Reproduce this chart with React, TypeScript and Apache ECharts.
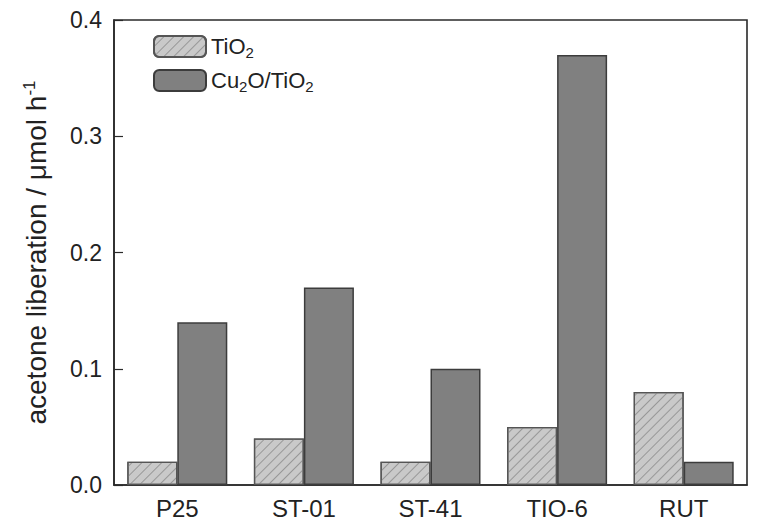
import React, { useEffect, useRef } from "react";
import * as echarts from "echarts";

const categories = ["P25", "ST-01", "ST-41", "TIO-6", "RUT"];
const tio2Values = [0.02, 0.04, 0.02, 0.05, 0.08];
const cu2oValues = [0.14, 0.17, 0.1, 0.37, 0.02];
const yTicks = [0, 0.1, 0.2, 0.3, 0.4];

const FONT = "Liberation Sans, Arial, sans-serif";

export default function App() {
  const ref = useRef<HTMLDivElement>(null);
  useEffect(() => {
    const chart = echarts.init(ref.current!, null, { renderer: "svg" });
    const rich = {
      sub: { fontSize: 15, verticalAlign: "bottom", padding: [12, 0, 0, 0], fontFamily: FONT, color: "#222" },
    };
    chart.setOption({
      animation: false,
      backgroundColor: "#fff",
      textStyle: { fontFamily: FONT },
      grid: {
        left: 114,
        right: 10,
        top: 20,
        bottom: 39,
        show: true,
        borderColor: "#2a2a2a",
        borderWidth: 1.6,
        containLabel: false,
      },
      legend: {
        orient: "vertical",
        left: 148,
        top: 30,
        itemWidth: 52,
        itemHeight: 21,
        itemGap: 9,
        data: ["TiO2", "Cu2O/TiO2"],
        formatter: (name: string) =>
          name === "TiO2" ? "TiO{sub|2}" : "Cu{sub|2}O/TiO{sub|2}",
        textStyle: { fontSize: 22, color: "#222", fontFamily: FONT, rich },
      },
      xAxis: {
        type: "category",
        data: categories,
        axisLine: { lineStyle: { color: "#2a2a2a", width: 1.6 } },
        axisTick: { show: false },
        axisLabel: { fontSize: 24, color: "#222", margin: 11, fontFamily: FONT },
      },
      yAxis: {
        type: "value",
        min: 0,
        max: 0.4,
        interval: 0.1,
        name: "acetone liberation / μmol h{sup|-1}",
        nameLocation: "middle",
        nameGap: 62,
        nameRotate: 90,
        nameTextStyle: {
          fontSize: 28,
          color: "#222",
          fontFamily: FONT,
          rich: {
            sup: { fontSize: 17, verticalAlign: "top", padding: [0, 0, 14, 0], color: "#222", fontFamily: FONT },
          },
        },
        axisLine: { show: true, lineStyle: { color: "#2a2a2a", width: 1.6 } },
        axisTick: { show: true, inside: true, length: 9, lineStyle: { color: "#2a2a2a", width: 1.2 } },
        splitLine: { show: false },
        axisLabel: {
          fontSize: 23,
          color: "#222",
          margin: 12,
          fontFamily: FONT,
          formatter: (v: number) => yTicks.includes(Math.round(v * 10) / 10) ? v.toFixed(1) : "",
        },
      },
      series: [
        {
          name: "TiO2",
          type: "bar",
          data: tio2Values,
          barGap: "0%",
          barCategoryGap: "21%",
          itemStyle: {
            color: "#c9c9c9",
            borderColor: "#555",
            borderWidth: 1.3,
            decal: {
              symbol: "rect",
              color: "#979797",
              dashArrayX: [1, 0],
              dashArrayY: [1, 6],
              rotation: -Math.PI / 4,
              symbolSize: 1,
            },
          },
        },
        {
          name: "Cu2O/TiO2",
          type: "bar",
          data: cu2oValues,
          barGap: "0%",
          barCategoryGap: "21%",
          itemStyle: { color: "#808080", borderColor: "#3c3c3c", borderWidth: 1.5 },
        },
      ],
    });
    return () => chart.dispose();
  }, []);
  return (
    <div
      ref={ref}
      style={{ position: "absolute", left: 0, top: 0, width: 757, height: 524 }}
    />
  );
}
